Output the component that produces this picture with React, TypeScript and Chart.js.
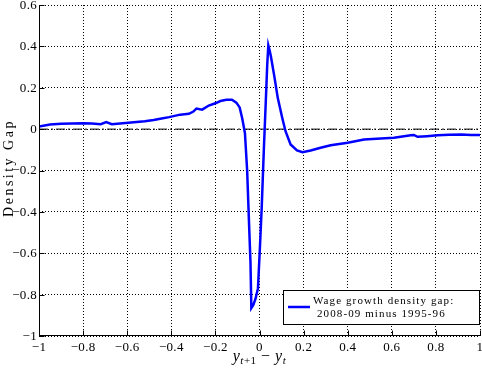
import React, { useEffect, useRef } from 'react';
import { Chart, registerables } from 'chart.js';

Chart.register(...registerables);

// ---- data ----
const xValues = [
  -1.0, -0.95, -0.9, -0.85, -0.8, -0.76, -0.72, -0.695, -0.67, -0.62,
  -0.57, -0.52, -0.48, -0.45, -0.41, -0.36, -0.32, -0.3, -0.286, -0.26,
  -0.23, -0.2, -0.177, -0.15, -0.125, -0.105, -0.09, -0.078, -0.066, -0.056,
  -0.048, -0.041, -0.037, -0.028, -0.018, -0.007, 0.002, 0.01, 0.02, 0.028,
  0.035, 0.04, 0.046, 0.052, 0.068, 0.083, 0.103, 0.118, 0.141, 0.17,
  0.195, 0.232, 0.277, 0.323, 0.4, 0.474, 0.55, 0.61, 0.686, 0.7,
  0.717, 0.76, 0.808, 0.86, 0.914, 0.96, 1.0,
];
const gapValues = [
  0.012, 0.022, 0.026, 0.027, 0.028, 0.027, 0.024, 0.034, 0.024, 0.028,
  0.033, 0.038, 0.044, 0.05, 0.058, 0.07, 0.074, 0.085, 0.099, 0.094,
  0.114, 0.125, 0.136, 0.142, 0.142, 0.128, 0.105, 0.05, -0.02, -0.2,
  -0.44, -0.64, -0.865, -0.85, -0.82, -0.77, -0.57, -0.38, -0.09, 0.12,
  0.31, 0.405, 0.38, 0.35, 0.25, 0.15, 0.055, -0.01, -0.074, -0.103,
  -0.112, -0.103, -0.09, -0.078, -0.066, -0.05, -0.045, -0.042, -0.03, -0.028,
  -0.037, -0.034, -0.03, -0.027, -0.026, -0.028, -0.028,
];
const zeroLineX = [-1, 1];
const zeroLineY = [0, 0];
const xRange = [-1, 1];
const yRange = [-1, 0.6];
const tickStep = 0.2;
const legendLines = ['Wage growth density gap:', '2008-09 minus 1995-96'];
const yTitle = 'Density Gap';

const SERIF = "'Liberation Serif', 'Times New Roman', serif";

const fmt = (v: number) => {
  const r = Math.round(v * 10) / 10;
  if (r === 0) return '0';
  return String(r).replace('-', '\u2212');
};

const decorPlugin = {
  id: 'decor',
  afterDraw(chart: any) {
    const { ctx, chartArea, scales } = chart;
    const xs = scales.x;
    const ys = scales.y;
    const L = chartArea.left, R = chartArea.right, T = chartArea.top, B = chartArea.bottom;
    ctx.save();
    ctx.setLineDash([]);
    ctx.strokeStyle = '#000';
    ctx.lineWidth = 1;
    // axes (left, bottom)
    ctx.beginPath();
    const lx = Math.round(L) + 0.5;
    const by = Math.round(B) - 0.5;
    ctx.moveTo(lx, T);
    ctx.lineTo(lx, by);
    ctx.lineTo(R, by);
    ctx.stroke();
    // inward ticks
    ctx.beginPath();
    xs.ticks.forEach((t: any) => {
      const p = Math.round(xs.getPixelForValue(t.value)) + 0.5;
      ctx.moveTo(p, by);
      ctx.lineTo(p, by - 5);
    });
    ys.ticks.forEach((t: any) => {
      const p = Math.round(ys.getPixelForValue(t.value)) + 0.5;
      ctx.moveTo(lx, p);
      ctx.lineTo(lx + 5, p);
    });
    ctx.stroke();

    // tick labels
    ctx.save();
    ctx.fillStyle = '#000';
    ctx.font = `13px ${SERIF}`;
    (ctx as any).letterSpacing = '0.3px';
    ctx.textAlign = 'center';
    ctx.textBaseline = 'top';
    xs.ticks.forEach((t: any) => {
      ctx.fillText(fmt(t.value), xs.getPixelForValue(t.value), B + 5);
    });
    ctx.textAlign = 'right';
    ctx.textBaseline = 'middle';
    ys.ticks.forEach((t: any) => {
      ctx.fillText(fmt(t.value), L - 2, ys.getPixelForValue(t.value) + 0.5);
    });
    ctx.restore();

    // y title
    ctx.save();
    ctx.fillStyle = '#000';
    ctx.font = `14px ${SERIF}`;
    (ctx as any).letterSpacing = '2.5px';
    ctx.textAlign = 'center';
    ctx.textBaseline = 'middle';
    ctx.translate(9, 168);
    ctx.rotate(-Math.PI / 2);
    ctx.fillText(yTitle, 0, 0);
    ctx.restore();

    // x title: y_{t+1} − y_t
    ctx.save();
    ctx.fillStyle = '#000';
    ctx.textBaseline = 'alphabetic';
    ctx.textAlign = 'left';
    (ctx as any).letterSpacing = '0.5px';
    const big = `italic 16px ${SERIF}`;
    const small = `italic 11px ${SERIF}`;
    const up = `16px ${SERIF}`;
    const parts: [string, string, number][] = [
      ['y', big, 0],
      ['t', small, 3],
      ['+1', `11px ${SERIF}`, 3],
      [' \u2212 ', up, 0],
      ['y', big, 0],
      ['t', small, 3],
    ];
    let total = 0;
    parts.forEach(([s, f]) => { ctx.font = f; total += ctx.measureText(s).width; });
    let cx = (L + R) / 2 - total / 2;
    const base = 361;
    parts.forEach(([s, f, dy]) => {
      ctx.font = f;
      ctx.fillText(s, cx, base + dy);
      cx += ctx.measureText(s).width;
    });
    ctx.restore();

    // legend
    ctx.save();
    const bx = 283.5, byy = 290.5, bw = 196, bh = 34;
    ctx.fillStyle = '#fff';
    ctx.fillRect(bx, byy, bw, bh);
    ctx.strokeStyle = '#000';
    ctx.lineWidth = 1;
    ctx.strokeRect(bx, byy, bw, bh);
    const ds = chart.data.datasets[0];
    ctx.strokeStyle = ds.borderColor;
    ctx.lineWidth = ds.borderWidth;
    ctx.beginPath();
    ctx.moveTo(288, 307);
    ctx.lineTo(310, 307);
    ctx.stroke();
    ctx.fillStyle = '#000';
    ctx.font = `11px ${SERIF}`;
    (ctx as any).letterSpacing = '1.1px';
    ctx.textAlign = 'left';
    ctx.textBaseline = 'middle';
    ctx.fillText(legendLines[0], 313, 301);
    ctx.fillText(legendLines[1], 317, 314);
    ctx.restore();

    ctx.restore();
  },
};

export default function App() {
  const ref = useRef<HTMLCanvasElement | null>(null);
  useEffect(() => {
    if (!ref.current) return;
    const chart = new Chart(ref.current, {
      type: 'line',
      data: {
        datasets: [
          {
            label: legendLines.join(' '),
            data: xValues.map((x, i) => ({ x, y: gapValues[i] })),
            borderColor: '#0000ff',
            borderWidth: 2.5,
            pointRadius: 0,
            tension: 0,
            fill: false,
            order: 1,
          },
          {
            label: 'zero',
            data: zeroLineX.map((x, i) => ({ x, y: zeroLineY[i] })),
            borderColor: '#000',
            borderWidth: 1,
            borderDash: [9, 3, 2, 3],
            pointRadius: 0,
            fill: false,
            order: 2,
          },
        ],
      },
      options: {
        responsive: false,
        animation: false,
        devicePixelRatio: 1,
        layout: { padding: { top: 5, right: 2, left: 0, bottom: 0 } },
        plugins: { legend: { display: false }, tooltip: { enabled: false } },
        scales: {
          x: {
            type: 'linear',
            min: xRange[0],
            max: xRange[1],
            ticks: { stepSize: tickStep, display: false, autoSkip: false },
            grid: { color: '#000', lineWidth: 1, drawTicks: false, borderDash: [1, 2] } as any,
            border: { display: false, dash: [1, 2] } as any,
            afterFit: (s: any) => { s.height = 32; },
          },
          y: {
            type: 'linear',
            min: yRange[0],
            max: yRange[1],
            ticks: { stepSize: tickStep, display: false, autoSkip: false },
            grid: { color: '#000', lineWidth: 1, drawTicks: false, borderDash: [1, 2] } as any,
            border: { display: false, dash: [1, 2] } as any,
            afterFit: (s: any) => { s.width = 39; },
          },
        },
      } as any,
      plugins: [decorPlugin],
    });
    return () => chart.destroy();
  }, []);
  return (
    <div style={{ position: 'absolute', left: 0, top: 0, width: 482, height: 368, background: '#fff' }}>
      <canvas ref={ref} width={482} height={368} style={{ display: 'block' }} />
    </div>
  );
}
